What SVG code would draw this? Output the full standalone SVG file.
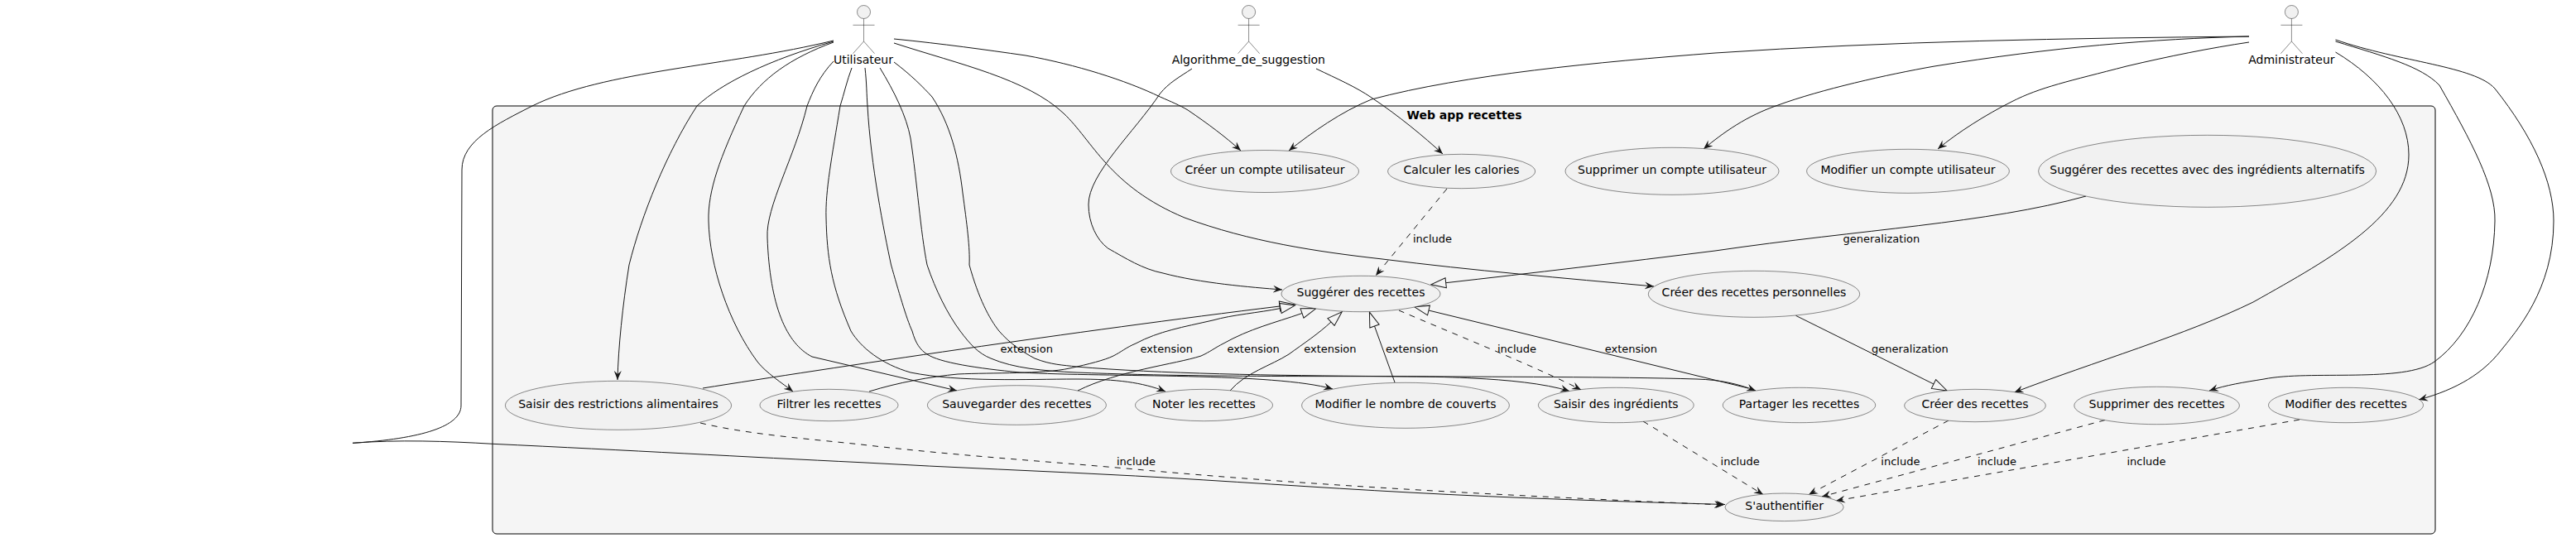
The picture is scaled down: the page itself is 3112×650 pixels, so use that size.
<svg xmlns="http://www.w3.org/2000/svg" width="3112" height="650" viewBox="0 0 3112 650">
<style>
text{font-family:"DejaVu Sans",sans-serif;fill:#000}
.n{font-size:14px;text-anchor:middle}
.l{font-size:13px}
.t{font-size:14px;font-weight:bold;text-anchor:middle}
.u{fill:#F1F1F1;stroke:#181818;stroke-width:.5}
.a{fill:none;stroke:#181818;stroke-width:.5}
.e{fill:none;stroke:#181818;stroke-width:1;marker-end:url(#arrow)}
.d{stroke-dasharray:7,7}
.g{fill:none;stroke:#181818;stroke-width:1;marker-end:url(#tri)}
</style>
<defs>
<marker id="arrow" viewBox="0 -5 11 10" refX="11" refY="0" markerWidth="11" markerHeight="10" markerUnits="userSpaceOnUse" orient="auto"><path d="M0,-4.5 L11,0 L0,4.5 L4,0 Z" fill="#181818"/></marker>
<marker id="tri" viewBox="-1 -7 20 14" refX="0" refY="0" markerWidth="20" markerHeight="14" markerUnits="userSpaceOnUse" orient="auto"><path d="M0,-6 L18,0 L0,6 Z" fill="#F5F5F5" stroke="#181818" stroke-width="1"/></marker>
<g id="fig"><ellipse class="u" cx="0" cy="14.5" rx="8" ry="8"/><path class="a" d="M0,22.5 V50 M-13,30.3 H13 M0,50 L-13,64.7 M0,50 L13,64.7"/></g>
</defs>
<g id="cluster"><rect x="595" y="128" width="2347" height="517" rx="5" ry="5" fill="#F5F5F5" stroke="#000" stroke-width="1"/><text class="t" x="1769" y="143.5">Web app recettes</text></g>
<g id="connectors">
<path class="e" d="M1007,49 C880,80 730,85 643,128 C600,150 558,170 558,205 L557,490 C557,515 510,530 426,535.3 C480,531 540,533 595,536.3 C760,544 900,552 1040,558.7 C1150,565 1260,569 1371.6,575 C1480,581 1590,589 1703,595 C1830,602 1960,606 2084,609.5"/>
<path class="e" d="M1007,50 C930,72 872,100 842,128 C805,185 775,260 760,320 C752,370 747,420 746,459"/>
<path class="e" d="M1007,51 C955,70 920,95 899,128 C870,190 855,230 856,267 C857,320 880,390 915,437 C925,450 945,463 958,473"/>
<path class="e" d="M1007,74 C990,92 982,110 975,128 C960,190 925,250 927,287 C930,370 950,415 981,431 L1156,472"/>
<path class="e" d="M1029,82 C1023,98 1020,112 1015,128 C1005,190 997,230 998,263 C999,310 1004,345 1028,400 C1040,420 1065,440 1100,450 C1160,462 1240,458 1300,458 C1350,458 1380,462 1408,473"/>
<path class="e" d="M1045,82 C1047,100 1047,115 1048,128 C1052,200 1068,280 1076.5,320 C1085,350 1095,385 1102,400 C1106,415 1112,423 1120,428 C1135,438 1180,445 1233,450 C1340,456 1540,450 1610,470"/>
<path class="e" d="M1063,82 C1080,110 1095,140 1100,167 C1108,220 1112,280 1120,320 C1130,350 1145,380 1160,400 C1172,416 1182,427 1197,433 C1225,445 1260,448 1300,450 C1500,458 1700,452 1780,457 C1820,459 1865,463 1896,472.5"/>
<path class="e" d="M1080,75 C1100,90 1115,105 1126,117 C1148,150 1158,190 1163,233 C1168,270 1172,300 1171,320 C1182,360 1195,385 1207,400 C1220,415 1235,425 1250,433 C1270,441 1285,441 1300,443 C1500,460 1850,452 2050,458 C2080,459 2100,464 2121,472"/>
<path class="e" d="M1080,47 C1140,53 1190,60 1239,67 C1300,78 1360,97 1401.5,117 C1415,123 1425,127 1435,133 C1460,150 1480,165 1499,182"/>
<path class="e" d="M1080,52 C1160,78 1240,95 1285,137 C1320,170 1340,225 1431,263 C1510,292 1590,304 1670,313 C1780,327 1890,336 1998,346"/>
<path class="e" d="M1440,83 C1425,93 1412,100 1401.5,113 C1370,160 1315,210 1315,247 C1315,270 1325,290 1338.5,300 C1360,312 1380,325 1405,330 C1450,342 1510,347 1549,350"/>
<path class="e" d="M1590,83 C1615,95 1638,105 1657,118 C1690,140 1720,165 1743,186"/>
<path class="e d" d="M1748,228 L1662,333"/>
<path class="e" d="M2717,44 C2500,46 2280,50 2072,64 C1930,75 1770,90 1657,120 C1620,135 1585,160 1557,182"/>
<path class="e" d="M2717,44 C2600,47 2480,57 2337,80 C2280,90 2200,108 2148,127 C2110,140 2082,160 2058,180"/>
<path class="e" d="M2717,51 C2670,58 2620,68 2569,80 C2500,98 2465,105 2430,123 C2400,138 2365,160 2341,180"/>
<path class="e" d="M2821.5,63 C2875,95 2910,140 2910,187 C2910,260 2820,310 2722,365 C2640,405 2530,437 2433.5,474"/>
<path class="e" d="M2821.5,50 C2880,68 2925,80 2947,103 C2985,170 3015,225 3014,267 C3013,340 2985,405 2941,437 C2905,463 2790,447 2735,458 C2710,462 2690,465 2669,472"/>
<path class="e" d="M2821.5,48 C2900,75 2990,80 3014,107 C3060,165 3085,220 3085,267 C3085,350 3040,400 3020,425 C3000,450 2970,470 2922,483"/>
<path class="g" d="M2520,237 C2400,270 2250,277 2072,303 C1960,317 1850,330 1746.7,341.7"/>
<path class="g" d="M2169.5,381.3 L2336,464"/>
<path class="g" d="M849,469 C1000,445 1300,400 1546,370"/>
<path class="g" d="M1050,473 C1085,462 1125,455 1157,452 C1200,450 1260,452 1292,445 C1315,440 1335,435 1345,430 C1355,425 1360,420 1372,415 C1400,400 1430,395 1465,387 C1490,380 1520,378 1547,372.5"/>
<path class="g" d="M1302,472 C1350,448 1420,440 1451,430 C1462,425 1468,420 1478,415 C1510,397 1540,390 1573,378.5"/>
<path class="g" d="M1486,472 C1505,450 1535,442 1557,428 C1575,415 1593,403 1608,389"/>
<path class="g" d="M1685,462 L1660.5,394"/>
<path class="g" d="M2112,469 L1726,375"/>
<path class="e d" d="M1690,375 C1760,405 1860,445 1910,471"/>
<path class="e d" d="M846,511 C905,525 975,530 1040,537 C1150,550 1260,557 1372,567 C1600,588 1850,600 2082,610"/>
<path class="e d" d="M1985,509 L2130,597.5"/>
<path class="e d" d="M2354,508 L2185,597.5"/>
<path class="e d" d="M2543,507.5 L2201,600"/>
<path class="e d" d="M2778,507 L2218,605"/>
<text class="l" x="1707" y="293">include</text>
<text class="l" x="2226.5" y="293">generalization</text>
<text class="l" x="2261" y="426">generalization</text>
<text class="l" x="1208.5" y="426">extension</text>
<text class="l" x="1377.6" y="426">extension</text>
<text class="l" x="1482.4" y="426">extension</text>
<text class="l" x="1575.2" y="426">extension</text>
<text class="l" x="1674" y="426">extension</text>
<text class="l" x="1938.7" y="426">extension</text>
<text class="l" x="1809" y="426">include</text>
<text class="l" x="1349" y="562">include</text>
<text class="l" x="2078.6" y="562">include</text>
<text class="l" x="2272.3" y="562">include</text>
<text class="l" x="2389" y="562">include</text>
<text class="l" x="2569.4" y="562">include</text>
</g>
<g id="actor-utilisateur"><use href="#fig" x="1043.5"/><text class="n" x="1043" y="77.3">Utilisateur</text></g>
<g id="actor-algorithme"><use href="#fig" x="1508.6"/><text class="n" x="1508.3" y="77.3">Algorithme_de_suggestion</text></g>
<g id="actor-administrateur"><use href="#fig" x="2768.4"/><text class="n" x="2768.4" y="77.3">Administrateur</text></g>
<g id="uc-creer-compte"><ellipse class="u" cx="1528" cy="207" rx="113.5" ry="25.5"/><text class="n" x="1528" y="210">Créer un compte utilisateur</text></g>
<g id="uc-calories"><ellipse class="u" cx="1765.6" cy="207" rx="89" ry="20.7"/><text class="n" x="1765.6" y="210">Calculer les calories</text></g>
<g id="uc-supprimer-compte"><ellipse class="u" cx="2020" cy="206.8" rx="129" ry="28.5"/><text class="n" x="2020" y="210">Supprimer un compte utilisateur</text></g>
<g id="uc-modifier-compte"><ellipse class="u" cx="2305" cy="206.8" rx="122.4" ry="26.5"/><text class="n" x="2305" y="210">Modifier un compte utilisateur</text></g>
<g id="uc-alternatifs"><ellipse class="u" cx="2666.6" cy="206.8" rx="204" ry="43.5"/><text class="n" x="2666.6" y="210">Suggérer des recettes avec des ingrédients alternatifs</text></g>
<g id="uc-suggerer"><ellipse class="u" cx="1644" cy="355" rx="96" ry="21.7"/><text class="n" x="1644" y="358">Suggérer des recettes</text></g>
<g id="uc-perso"><ellipse class="u" cx="2119" cy="355.3" rx="127.7" ry="28"/><text class="n" x="2119" y="358">Créer des recettes personnelles</text></g>
<g id="uc-restrictions"><ellipse class="u" cx="747" cy="489.8" rx="136.6" ry="29.5"/><text class="n" x="747" y="492.7">Saisir des restrictions alimentaires</text></g>
<g id="uc-filtrer"><ellipse class="u" cx="1001.5" cy="489.5" rx="83.5" ry="19.2"/><text class="n" x="1001.5" y="492.7">Filtrer les recettes</text></g>
<g id="uc-sauvegarder"><ellipse class="u" cx="1228.4" cy="489.5" rx="108" ry="23.8"/><text class="n" x="1228.4" y="492.7">Sauvegarder des recettes</text></g>
<g id="uc-noter"><ellipse class="u" cx="1454.5" cy="489.5" rx="83" ry="19.2"/><text class="n" x="1454.5" y="492.7">Noter les recettes</text></g>
<g id="uc-couverts"><ellipse class="u" cx="1698" cy="489.8" rx="125.4" ry="27.5"/><text class="n" x="1698" y="492.7">Modifier le nombre de couverts</text></g>
<g id="uc-ingredients"><ellipse class="u" cx="1952.3" cy="489.5" rx="93.9" ry="21.2"/><text class="n" x="1952.3" y="492.7">Saisir des ingrédients</text></g>
<g id="uc-partager"><ellipse class="u" cx="2173.5" cy="489.5" rx="92.2" ry="21.2"/><text class="n" x="2173.5" y="492.7">Partager les recettes</text></g>
<g id="uc-creer-recettes"><ellipse class="u" cx="2386" cy="490" rx="85.3" ry="19.7"/><text class="n" x="2386" y="492.7">Créer des recettes</text></g>
<g id="uc-supprimer-recettes"><ellipse class="u" cx="2605.6" cy="490" rx="99.8" ry="22.7"/><text class="n" x="2605.6" y="492.7">Supprimer des recettes</text></g>
<g id="uc-modifier-recettes"><ellipse class="u" cx="2834" cy="489.5" rx="93.5" ry="21.2"/><text class="n" x="2834" y="492.7">Modifier des recettes</text></g>
<g id="uc-auth"><ellipse class="u" cx="2155.6" cy="612.8" rx="71.6" ry="16.8"/><text class="n" x="2155.6" y="616.3">S'authentifier</text></g>
</svg>
